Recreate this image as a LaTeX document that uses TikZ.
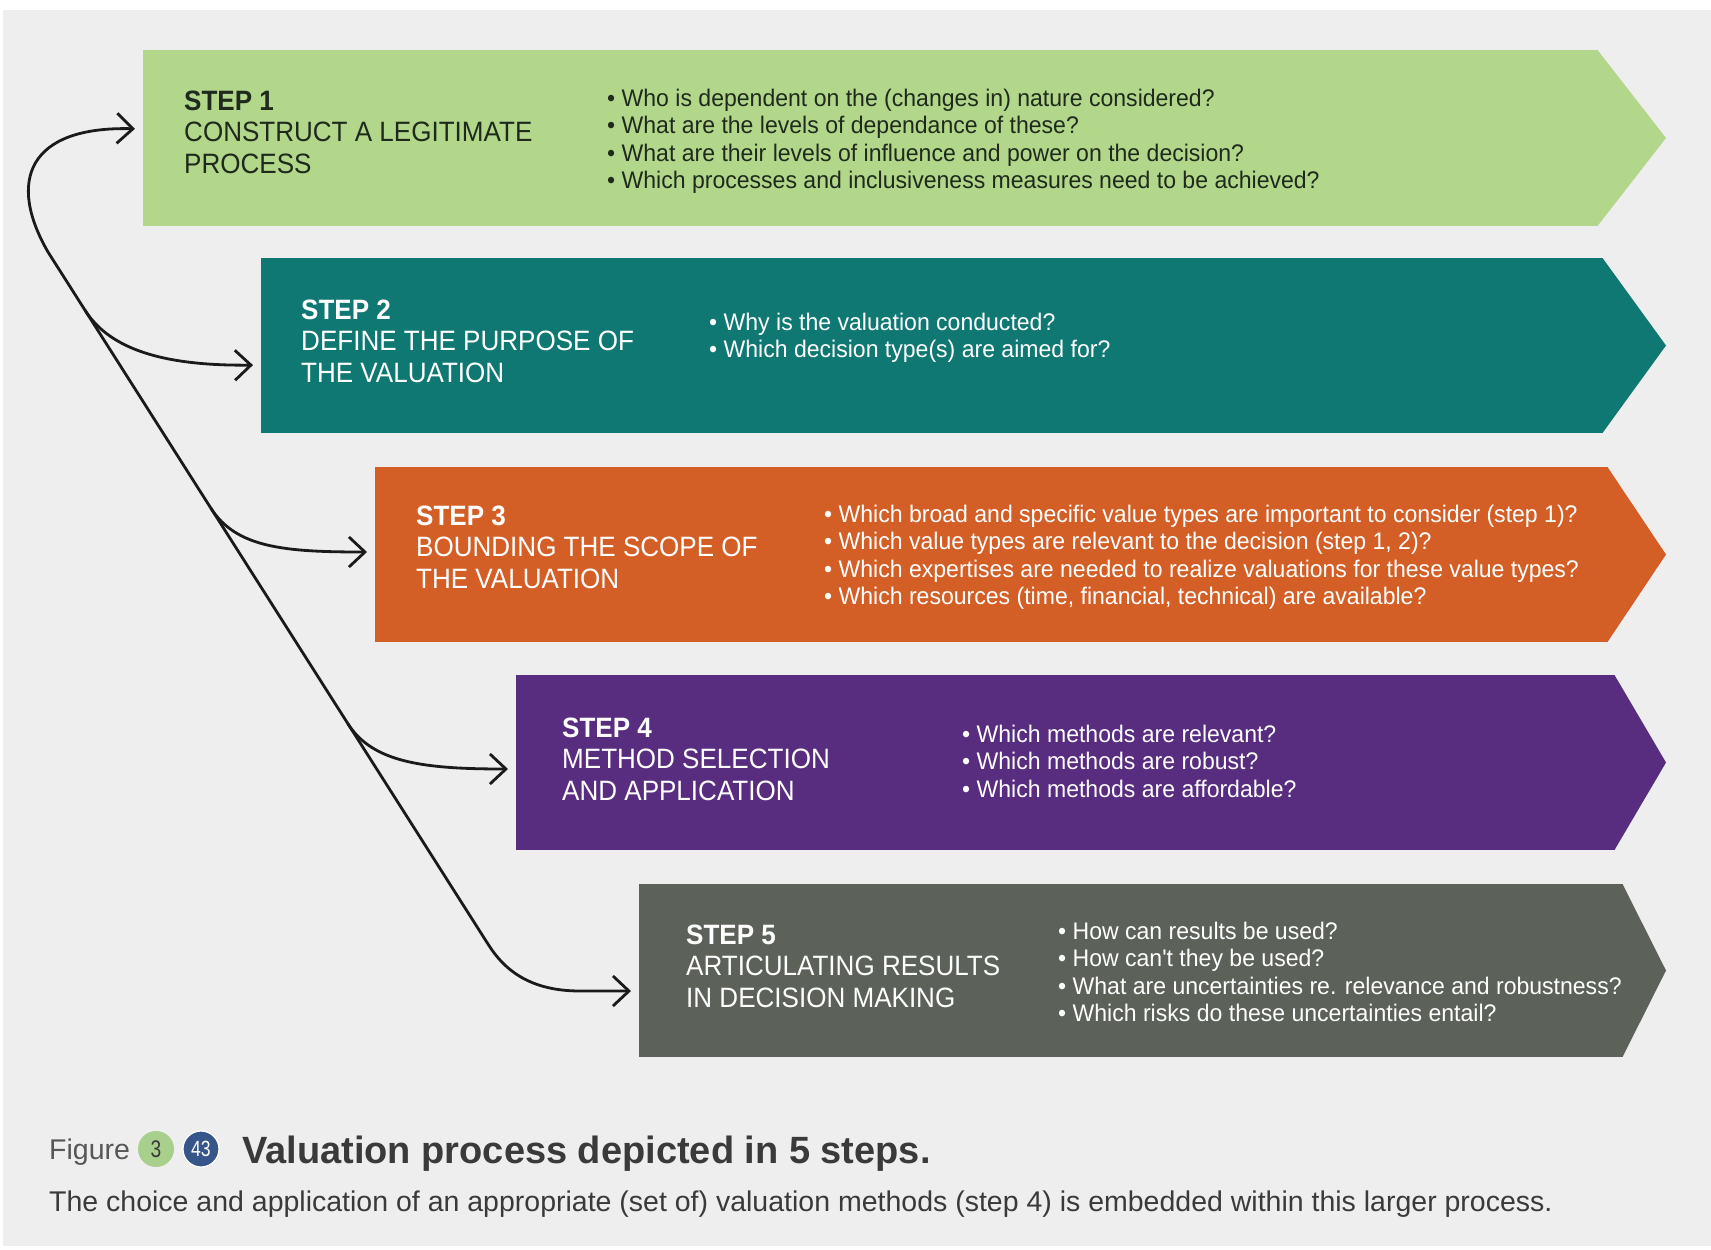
\documentclass[tikz,border=0pt]{standalone}
\usepackage{fontspec}
\setmainfont{Liberation Sans}
\newfontfamily\stepfont{Liberation Sans}[FakeStretch=0.93]
\newfontfamily\questfont{Liberation Sans}[FakeStretch=0.96]
\newfontfamily\narrowfont{Liberation Sans}[FakeStretch=0.8]
\usetikzlibrary{arrows.meta}

\definecolor{bgc}{HTML}{EEEEEE}
\definecolor{c1}{HTML}{B2D78B}
\definecolor{c2}{HTML}{107873}
\definecolor{c3}{HTML}{D35F26}
\definecolor{c4}{HTML}{582C7E}
\definecolor{c5}{HTML}{5C6259}
\definecolor{darktxt}{HTML}{1F2A1C}
\definecolor{arrowc}{HTML}{1A1A1A}
\definecolor{capgreen}{HTML}{A8D08C}
\definecolor{capblue}{HTML}{36568A}
\definecolor{captxt}{HTML}{3A3A3A}

% multi-line block whose baseline is the first line
\newcommand\steplines[1]{\begin{tabular}[t]{@{}l@{}}#1\end{tabular}}

\tikzset{
  stepbody/.style={rectangle, inner sep=0pt, outer sep=0pt, anchor=north west},
  titletext/.style={inner sep=0pt, anchor=base west,
    font=\stepfont\fontsize{28}{31.6}\selectfont},
  bullettext/.style={inner sep=0pt, anchor=base west,
    font=\questfont\fontsize{24}{27.6}\selectfont},
  barb/.tip={Straight Barb[length=16pt,width=30pt,line width=2.8pt]},
  flow/.style={draw=arrowc, line width=2.8pt, -barb, shorten >=8pt},
  trunk/.style={draw=arrowc, line width=2.8pt, barb-barb, shorten >=8pt, shorten <=8pt},
}

\begin{document}
\begin{tikzpicture}[x=1pt,y=-1pt]
\useasboundingbox (0,0) rectangle (1711,1250);
\fill[bgc] (3,10) rectangle (1711,1246);

\coordinate (tipx) at (1666,0);

% step bodies and their pointed ends
\node[stepbody, fill=c1, minimum width=1455pt, minimum height=176pt] (s1) at (143,50) {};
\node[stepbody, fill=c2, minimum width=1342pt, minimum height=175pt] (s2) at (261,258) {};
\node[stepbody, fill=c3, minimum width=1233pt, minimum height=175pt] (s3) at (375,467) {};
\node[stepbody, fill=c4, minimum width=1099pt, minimum height=175pt] (s4) at (516,675) {};
\node[stepbody, fill=c5, minimum width=984pt,  minimum height=173pt] (s5) at (639,884) {};
\foreach \s/\c in {s1/c1,s2/c2,s3/c3,s4/c4,s5/c5}
  \fill[\c] ([xshift=-0.5pt]\s.north east) -- (\s.east -| tipx) -- ([xshift=-0.5pt]\s.south east) -- cycle;

% step titles
\node[titletext, text=darktxt] (t1) at (184,110) {\steplines{\textbf{STEP 1}\\CONSTRUCT A LEGITIMATE\\PROCESS}};
\node[titletext, text=white] (t2) at (301,319) {\steplines{\textbf{STEP 2}\\DEFINE THE PURPOSE OF\\THE VALUATION}};
\node[titletext, text=white] (t3) at (416,525) {\steplines{\textbf{STEP 3}\\BOUNDING THE SCOPE OF\\THE VALUATION}};
\node[titletext, text=white] (t4) at (562,737) {\steplines{\textbf{STEP 4}\\METHOD SELECTION\\AND APPLICATION}};
\node[titletext, text=white] (t5) at (686,944) {\steplines{\textbf{STEP 5}\\ARTICULATING RESULTS\\IN DECISION MAKING}};

% guiding questions
\node[bullettext, text=darktxt] (q1) at (607,106) {\steplines{%
  \textbullet{} Who is dependent on the (changes in) nature considered?\\
  \textbullet{} What are the levels of dependance of these?\\
  \textbullet{} What are their levels of influence and power on the decision?\\
  \textbullet{} Which processes and inclusiveness measures need to be achieved?}};
\node[bullettext, text=white] (q2) at (709,330) {\steplines{%
  \textbullet{} Why is the valuation conducted?\\
  \textbullet{} Which decision type(s) are aimed for?}};
\node[bullettext, text=white] (q3) at (824,522) {\steplines{%
  \textbullet{} Which broad and specific value types are important to consider (step 1)?\\
  \textbullet{} Which value types are relevant to the decision (step 1, 2)?\\
  \textbullet{} Which expertises are needed to realize valuations for these value types?\\
  \textbullet{} Which resources (time, financial, technical) are available?}};
\node[bullettext, text=white] (q4) at (962,742) {\steplines{%
  \textbullet{} Which methods are relevant?\\
  \textbullet{} Which methods are robust?\\
  \textbullet{} Which methods are affordable?}};
\node[bullettext, text=white] (q5) at (1058,939) {\steplines{%
  \textbullet{} How can results be used?\\
  \textbullet{} How can't they be used?\\
  \textbullet{} What are uncertainties re. relevance and robustness?\\
  \textbullet{} Which risks do these uncertainties entail?}};

% main loop linking step 1 to step 5, with branches to steps 2-4
\coordinate (b2) at (84.9,310);
\coordinate (b3) at (210.8,508);
\coordinate (b4) at (348.1,724);
\draw[trunk] ([yshift=9pt]s1.west) .. controls (28,126) and (7,181) .. (48,252)
  -- (488.6,945) .. controls (504.5,970) and (530,991) .. (580,991)
  -- ([yshift=-20.5pt]s5.west);
\draw[flow] (b2) .. controls (110,350) and (165,366) .. ([yshift=-19.5pt]s2.west);
\draw[flow] (b3) .. controls (236,548) and (285,552) .. ([yshift=2.5pt]s3.west);
\draw[flow] (b4) .. controls (373,763) and (425,769) .. ([yshift=-6.5pt]s4.west);

% caption
\node[inner sep=0pt, anchor=base west, text=captxt!85, font=\fontsize{28.5}{30}\selectfont] (fig) at (49,1159) {Figure};
\node[circle, fill=capgreen, minimum size=36pt, inner sep=0pt, text=captxt,
      font=\narrowfont\fontsize{24}{24}\selectfont] (ch) at (156,1149) {3};
\node[circle, fill=capblue, draw=white, line width=1.2pt, minimum size=36pt, inner sep=0pt, text=white,
      font=\narrowfont\fontsize{22}{22}\selectfont] (fn) at (201,1149) {43};
\node[inner sep=0pt, anchor=base west, text=captxt, font=\bfseries\fontsize{38}{40}\selectfont] (cap) at (242,1163) {Valuation process depicted in 5 steps.};
\node[inner sep=0pt, anchor=base west, text=captxt, font=\fontsize{28.5}{30}\selectfont] (sub) at (49,1211) {The choice and application of an appropriate (set of) valuation methods (step 4) is embedded within this larger process.};
\end{tikzpicture}
\end{document}
